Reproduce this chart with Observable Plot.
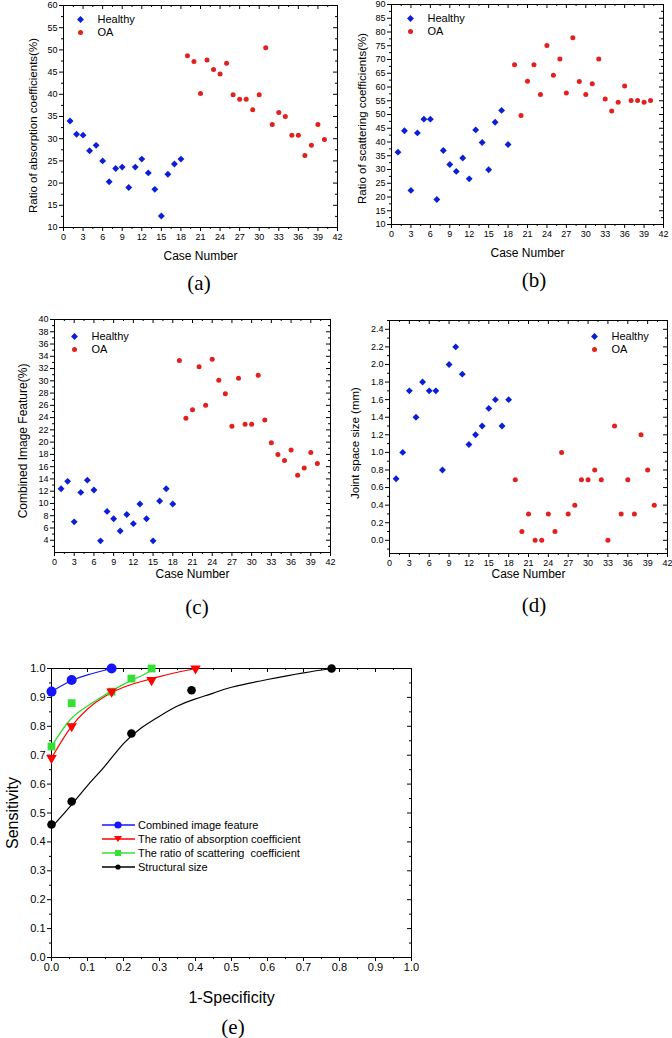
<!DOCTYPE html>
<html>
<head>
<meta charset="utf-8">
<script src="https://cdn.jsdelivr.net/npm/d3@7"></script>
<script src="https://cdn.jsdelivr.net/npm/@observablehq/plot@0.6"></script>
<style>
html,body{margin:0;padding:0;background:#fff;}
#page{position:relative;width:672px;height:1038px;overflow:hidden;font-family:"Liberation Sans",Arial,sans-serif;}
.panel{position:absolute;}
.panel svg{overflow:visible;}
.cap{position:absolute;font-family:"Liberation Serif","Times New Roman",serif;font-size:21px;transform:translate(-50%,-50%);white-space:nowrap;}
#roclegend{position:absolute;left:101px;top:818px;font-size:11px;color:#000;}
#roclegend .row{display:flex;align-items:center;height:14px;}
#roclegend svg{display:block;margin-right:2px;}
</style>
</head>
<body>
<div id="page"></div>
<script>
// ---------------- data ----------------
const caseHealthy = [1,2,3,4,5,6,7,8,9,10,11,12,13,14,15,16,17,18];
const caseOA = [19,20,21,22,23,24,25,26,27,28,29,30,31,32,33,34,35,36,37,38,39,40];

const absHealthy = [34.0,31.0,30.8,27.3,28.5,25.0,20.3,23.3,23.6,19.0,23.6,25.4,22.3,18.6,12.6,22.0,24.3,25.4];
const absOA = [48.7,47.4,40.2,47.7,45.6,44.6,47.0,39.9,38.9,38.9,36.5,39.9,50.5,33.2,35.9,35.0,30.8,30.8,26.2,28.5,33.2,29.8];

const scatHealthy = [36.3,44.1,22.4,43.3,48.3,48.3,19.1,36.9,31.8,29.3,34.2,26.6,44.4,39.8,29.9,47.2,51.5,39.1];
const scatOA = [68.1,49.6,62.1,68.1,57.3,75.1,64.3,70.2,57.8,77.9,62.0,57.3,61.2,70.2,55.6,51.3,54.5,60.4,55.1,55.1,54.5,55.1];

const combHealthy = [12.4,13.6,7.0,11.8,13.8,12.2,3.9,8.7,7.5,5.5,8.2,6.7,9.9,7.5,3.9,10.4,12.4,9.9];
const combOA = [33.3,23.9,25.3,32.3,26.0,33.5,30.1,27.9,22.6,30.4,22.9,22.9,30.9,23.6,19.9,18.0,17.0,18.7,14.6,15.8,18.3,16.5];

const jointHealthy = [0.7,1.0,1.7,1.4,1.8,1.7,1.7,0.8,2.0,2.2,1.89,1.09,1.2,1.3,1.5,1.6,1.3,1.6];
const jointOA = [0.69,0.1,0.3,0.0,0.0,0.3,0.1,1.0,0.3,0.4,0.69,0.69,0.8,0.69,0.0,1.3,0.3,0.69,0.3,1.2,0.8,0.4];

// ROC points (1-specificity, sensitivity)
const fprCombined = [0, 0.056, 0.167];
const sensCombined = [0.92, 0.96, 1.0];
const fprAbs = [0, 0.056, 0.167, 0.278, 0.40];
const sensAbs = [0.69, 0.80, 0.92, 0.96, 1.0];
const fprScat = [0, 0.056, 0.167, 0.222, 0.278];
const sensScat = [0.73, 0.88, 0.92, 0.965, 1.0];
const fprStruct = [0, 0.056, 0.222, 0.389, 0.778];
const sensStruct = [0.46, 0.54, 0.775, 0.925, 1.0];

// fitted ROC curves
const fitCombinedX = [0, 0.05, 0.1, 0.167];
const fitCombinedY = [0.92, 0.955, 0.978, 1.0];
const fitAbsX = [0, 0.05, 0.1, 0.15, 0.2, 0.25, 0.3, 0.35, 0.4];
const fitAbsY = [0.69, 0.79, 0.86, 0.905, 0.935, 0.955, 0.972, 0.987, 1.0];
const fitScatX = [0, 0.05, 0.1, 0.15, 0.2, 0.25, 0.28];
const fitScatY = [0.73, 0.82, 0.87, 0.91, 0.945, 0.975, 0.995];
const fitStructX = [0, 0.05, 0.1, 0.15, 0.2, 0.25, 0.3, 0.35, 0.4, 0.45, 0.5, 0.6, 0.7, 0.78];
const fitStructY = [0.45, 0.52, 0.595, 0.665, 0.74, 0.795, 0.835, 0.87, 0.895, 0.915, 0.935, 0.962, 0.985, 1.0];

// tick labels
const caseTicks = [0,3,6,9,12,15,18,21,24,27,30,33,36,39,42];
const absTicks = [10,15,20,25,30,35,40,45,50,55,60];
const scatTicks = [10,15,20,25,30,35,40,45,50,55,60,65,70,75,80,85,90];
const combTicks = [4,6,8,10,12,14,16,18,20,22,24,26,28,30,32,34,36,38,40];
const jointTicks = [0,0.2,0.4,0.6,0.8,1.0,1.2,1.4,1.6,1.8,2.0,2.2,2.4];
const rocTicks = [0,0.1,0.2,0.3,0.4,0.5,0.6,0.7,0.8,0.9,1.0];

// ---------------- styling ----------------
const FONT = '"Liberation Sans", Arial, Helvetica, sans-serif';
const BLUE = "#0b1fd6", RED = "#e32020";
const page = document.getElementById("page");

function midpoints(ticks, step) {
  return ticks.map(t => +(t + step / 2).toFixed(4));
}

function place(el, left, top) {
  const d = document.createElement("div");
  d.className = "panel";
  d.style.left = left + "px";
  d.style.top = top + "px";
  d.appendChild(el);
  page.appendChild(d);
}

function caption(text, x, y) {
  const d = document.createElement("div");
  d.className = "cap";
  d.style.left = x + "px";
  d.style.top = y + "px";
  d.textContent = text;
  page.appendChild(d);
}

function boxAxes(xMajor, xMinor, yMajor, yMinor, innerW, innerH, xFmt, yFmt, fs) {
  return [
    Plot.frame({stroke: "black", strokeWidth: 1}),
    Plot.axisX({ticks: xMajor, tickSize: 4, tickPadding: 2, tickFormat: xFmt, label: null, fontSize: fs}),
    Plot.axisX({ticks: xMinor, tickSize: 2, tickFormat: () => "", label: null}),
    Plot.axisY({ticks: yMajor, tickSize: 4, tickPadding: 2, tickFormat: yFmt, label: null, fontSize: fs}),
    Plot.axisY({ticks: yMinor, tickSize: 2, tickFormat: () => "", label: null}),
    Plot.tickX(xMajor, {x: d => d, insetBottom: innerH - 4, stroke: "black"}),
    Plot.tickX(xMinor, {x: d => d, insetBottom: innerH - 2, stroke: "black"}),
    Plot.tickY(yMajor, {y: d => d, insetLeft: innerW - 4, stroke: "black"}),
    Plot.tickY(yMinor, {y: d => d, insetLeft: innerW - 2, stroke: "black"})
  ];
}

function title(text, opts) {
  return Plot.text([text], {text: d => d, textAnchor: "middle", lineAnchor: "middle", ...opts});
}

function scatterPanel(c) {
  const innerW = c.width - c.ml - c.mr, innerH = c.height - c.mt - c.mb;
  const healthy = caseHealthy.map((k, i) => ({k, v: c.healthy[i]}));
  const oa = caseOA.map((k, i) => ({k, v: c.oa[i]}));
  const xMinor = midpoints(caseTicks.slice(0, -1), 3);
  const plot = Plot.plot({
    width: c.width, height: c.height,
    marginLeft: c.ml, marginRight: c.mr, marginTop: c.mt, marginBottom: c.mb,
    style: {fontFamily: FONT, fontSize: "9px", background: "transparent", color: "black", overflow: "visible"},
    x: {domain: [0, 42]},
    y: {domain: c.yDomain},
    marks: [
      ...boxAxes(caseTicks, xMinor, c.yTicks, c.yMinor, innerW, innerH, d => d, c.yFmt, 9),
      Plot.dot(healthy, {x: "k", y: "v", symbol: "diamond2", r: 3.1, fill: BLUE}),
      Plot.dot(oa, {x: "k", y: "v", r: 2.5, fill: RED}),
      // legend
      Plot.dot(["Healthy"], {frameAnchor: "top-left", dx: c.lgDx, dy: c.lgDy, symbol: "diamond2", r: 3.1, fill: BLUE}),
      Plot.dot(["OA"], {frameAnchor: "top-left", dx: c.lgDx, dy: c.lgDy + 13, r: 2.5, fill: RED}),
      Plot.text(["Healthy"], {text: d => d, frameAnchor: "top-left", dx: c.lgDx + 17, dy: c.lgDy, textAnchor: "start", lineAnchor: "middle", fontSize: 11}),
      Plot.text(["OA"], {text: d => d, frameAnchor: "top-left", dx: c.lgDx + 17, dy: c.lgDy + 13, textAnchor: "start", lineAnchor: "middle", fontSize: 11}),
      // axis titles
      title("Case Number", {frameAnchor: "bottom", dy: c.xLabelDy, fontSize: 12}),
      title(c.yLabel, {frameAnchor: "left", dx: c.yLabelDx, dy: c.yLabelDy, rotate: -90, fontSize: c.yLabelFs || 11.5})
    ]
  });
  place(plot, c.left, c.top);
}

// (a)
scatterPanel({
  left: 0, top: 0, width: 340, height: 265, ml: 63, mr: 3, mt: 5, mb: 38,
  yDomain: [10, 60], yTicks: absTicks, yMinor: midpoints(absTicks.slice(0, -1), 5), yFmt: d => d,
  healthy: absHealthy, oa: absOA,
  yLabel: "Ratio of absorption coefficients(%)", yLabelDx: -30, yLabelDy: 9, xLabelDy: 29,
  lgDx: 17, lgDy: 14
});
// (b)
scatterPanel({
  left: 335, top: 0, width: 337, height: 265, ml: 56, mr: 9, mt: 4, mb: 41,
  yDomain: [10, 90], yTicks: scatTicks, yMinor: midpoints(scatTicks.slice(0, -1), 5), yFmt: d => d,
  healthy: scatHealthy, oa: scatOA,
  yLabel: "Ratio of scattering coefficients(%)", yLabelDx: -29, yLabelDy: 4, xLabelDy: 29,
  lgDx: 19, lgDy: 14
});
// (c)
scatterPanel({
  left: 0, top: 290, width: 340, height: 300, ml: 54, mr: 10, mt: 29, mb: 38,
  yDomain: [2, 40], yTicks: combTicks, yMinor: midpoints([2, ...combTicks.slice(0, -1)], 2), yFmt: d => d,
  healthy: combHealthy, oa: combOA,
  yLabel: "Combined Image Feature(%)", yLabelDx: -31, yLabelDy: 5, xLabelDy: 22, yLabelFs: 12,
  lgDx: 20, lgDy: 17
});
// (d)
scatterPanel({
  left: 335, top: 290, width: 337, height: 300, ml: 54, mr: 5, mt: 30, mb: 37,
  yDomain: [-0.15, 2.5], yTicks: jointTicks, yMinor: midpoints([-0.2, ...jointTicks], 0.2), yFmt: d3.format(".1f"),
  healthy: jointHealthy, oa: jointOA,
  yLabel: "Joint space size (mm)", yLabelDx: -34, yLabelDy: 6, xLabelDy: 21, yLabelFs: 11.5,
  lgDx: 205, lgDy: 16
});

// (e) ROC
(function () {
  const W = 440, H = 398, ml = 51, mr = 29, mt = 28, mb = 81;
  const innerW = W - ml - mr, innerH = H - mt - mb;
  const minor = midpoints(rocTicks.slice(0, -1), 0.1);
  const pts = (xs, ys) => xs.map((x, i) => ({x, y: ys[i]}));
  const fmt = d3.format(".1f");
  const plot = Plot.plot({
    width: W, height: H, marginLeft: ml, marginRight: mr, marginTop: mt, marginBottom: mb,
    style: {fontFamily: FONT, fontSize: "11px", background: "transparent", color: "black", overflow: "visible"},
    x: {domain: [0, 1]},
    y: {domain: [0, 1]},
    marks: [
      ...boxAxes(rocTicks, minor, rocTicks, minor, innerW, innerH, fmt, fmt, 11),
      Plot.line(pts(fitStructX, fitStructY), {x: "x", y: "y", stroke: "black", strokeWidth: 1.2, curve: "natural"}),
      Plot.line(pts(fitAbsX, fitAbsY), {x: "x", y: "y", stroke: "#ff0000", strokeWidth: 1.2, curve: "natural"}),
      Plot.line(pts(fitScatX, fitScatY), {x: "x", y: "y", stroke: "#22dd22", strokeWidth: 1.2, curve: "natural"}),
      Plot.line(pts(fitCombinedX, fitCombinedY), {x: "x", y: "y", stroke: "#1515ff", strokeWidth: 1.2, curve: "natural"}),
      Plot.dot(pts(fprStruct, sensStruct), {x: "x", y: "y", r: 4.3, fill: "black"}),
      Plot.dot(pts(fprScat, sensScat), {x: "x", y: "y", symbol: "square", r: 4.4, fill: "#33e033"}),
      Plot.dot(pts(fprAbs, sensAbs), {x: "x", y: "y", symbol: "triangle", rotate: 180, r: 3.9, fill: "#ff0000"}),
      Plot.dot(pts(fprCombined, sensCombined), {x: "x", y: "y", r: 5, fill: "#1515ff"}),
      title("1-Specificity", {frameAnchor: "bottom", dy: 40, fontSize: 16}),
      title("Sensitivity", {frameAnchor: "left", dx: -39, rotate: -90, fontSize: 16})
    ]
  });
  place(plot, 0, 640);
})();

// ROC legend
const legendItems = [
  {label: "Combined image feature", color: "#1515ff", shape: "circle"},
  {label: "The ratio of absorption coefficient", color: "#ff0000", shape: "tri"},
  {label: "The ratio of scattering  coefficient", color: "#33e033", shape: "square"},
  {label: "Structural size", color: "#000000", shape: "dot"}
];
(function () {
  const box = document.createElement("div");
  box.id = "roclegend";
  for (const it of legendItems) {
    const row = document.createElement("div");
    row.className = "row";
    let m;
    if (it.shape === "circle") m = `<circle cx="17" cy="6" r="3.6" fill="${it.color}"/>`;
    else if (it.shape === "tri") m = `<path d="M13,3 L21,3 L17,9 Z" fill="${it.color}"/>`;
    else if (it.shape === "square") m = `<rect x="14" y="3" width="6" height="6" fill="${it.color}"/>`;
    else m = `<circle cx="17" cy="6" r="2.6" fill="${it.color}"/>`;
    row.innerHTML = `<svg width="35" height="12"><line x1="1" y1="6" x2="34" y2="6" stroke="${it.color}" stroke-width="1.3"/>${m}</svg><span>${it.label.replace(/  /g, " &nbsp;")}</span>`;
    box.appendChild(row);
  }
  page.appendChild(box);
})();

caption("(a)", 199, 283);
caption("(b)", 534, 280);
caption("(c)", 197, 607);
caption("(d)", 534, 605);
caption("(e)", 233, 1027);
</script>
</body>
</html>
